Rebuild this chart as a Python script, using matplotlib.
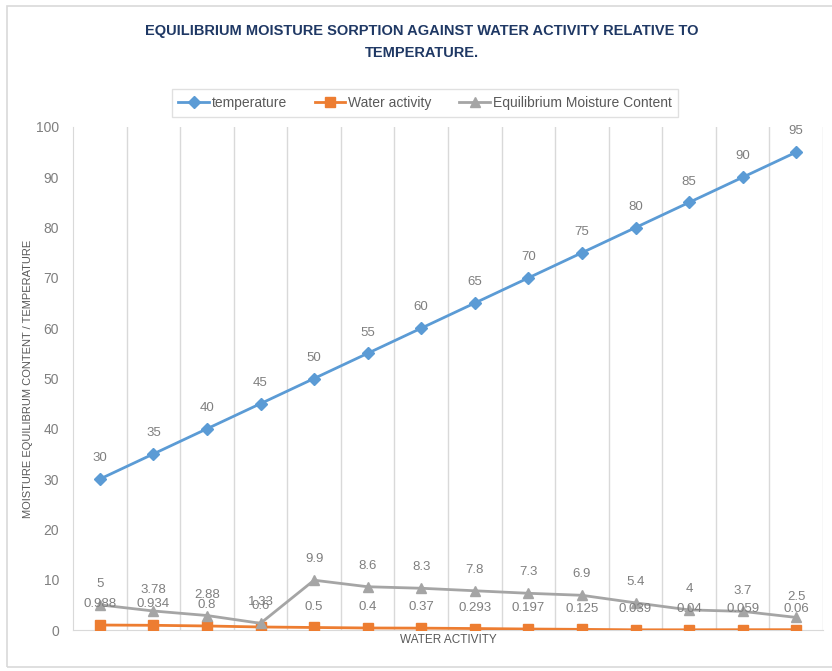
import matplotlib.pyplot as plt
from matplotlib.patches import Rectangle

plt.rcParams['font.family'] = ['Liberation Sans', 'DejaVu Sans']

# one point per category, no category labels shown
temperature = [30, 35, 40, 45, 50, 55, 60, 65, 70, 75, 80, 85, 90, 95]
water_activity = [0.988, 0.934, 0.8, 0.6, 0.5, 0.4, 0.37, 0.293, 0.197, 0.125, 0.039, 0.04, 0.059, 0.06]
emc = [5, 3.78, 2.88, 1.33, 9.9, 8.6, 8.3, 7.8, 7.3, 6.9, 5.4, 4, 3.7, 2.5]
yticks = [0, 10, 20, 30, 40, 50, 60, 70, 80, 90, 100]

blue = '#5B9BD5'
orange = '#ED7D31'
grey = '#A5A5A5'
label_col = '#7F7F7F'

fig = plt.figure(figsize=(8.32, 6.71), dpi=100)
fig.patches.append(Rectangle((7 / 832, 4 / 671), 1.0, 1 - 10 / 671, transform=fig.transFigure,
                             fill=False, edgecolor='#D9D9D9', linewidth=1.2))
ax = fig.add_axes([73 / 832, 1 - 630 / 671, 750 / 832, 503 / 671])

x = list(range(len(temperature)))

ax.plot(x, temperature, color=blue, lw=2, marker='D', ms=6, label='temperature', zorder=3)
ax.plot(x, water_activity, color=orange, lw=2, marker='s', ms=7, label='Water activity', zorder=3)
ax.plot(x, emc, color=grey, lw=2, marker='^', ms=7, label='Equilibrium Moisture Content', zorder=4)

for series in (temperature, water_activity, emc):
    for xi, v in zip(x, series):
        ax.annotate('%g' % v, (xi, v), xytext=(0, 15), textcoords='offset points',
                    ha='center', va='center', fontsize=9.5, color=label_col, zorder=5)

ax.set_xlim(-0.5, len(x) - 0.5)
ax.set_ylim(0, 100)
for b in range(1, len(x) + 1):
    ax.axvline(b - 0.5, color='#D9D9D9', lw=1, zorder=1)
ax.set_xticks([])
ax.set_yticks(yticks)
ax.tick_params(axis='y', length=0, labelsize=10, labelcolor=label_col, pad=10)
for s in ['top', 'right']:
    ax.spines[s].set_visible(False)
ax.spines['left'].set_color('#D9D9D9')
ax.spines['bottom'].set_color('#D9D9D9')

ax.set_xlabel('WATER ACTIVITY', fontsize=8.5, color='#595959', labelpad=3)
ax.set_ylabel('MOISTURE EQUILIBRUM CONTENT / TEMPERATURE', fontsize=8, color='#595959')
ax.yaxis.set_label_coords(-40 / 750, 0.5)

fig.text(422 / 832, 1 - 31 / 671, 'EQUILIBRIUM MOISTURE SORPTION AGAINST WATER ACTIVITY RELATIVE TO',
         ha='center', va='center', fontsize=10.5, fontweight='bold', color='#1F3864')
fig.text(422 / 832, 1 - 53 / 671, 'TEMPERATURE.',
         ha='center', va='center', fontsize=10.5, fontweight='bold', color='#1F3864')

leg = fig.legend(loc='center', bbox_to_anchor=(425 / 832, 1 - 103 / 671), ncol=3, fontsize=10,
                 frameon=True, fancybox=False, edgecolor='#D9D9D9', handlelength=2.2,
                 columnspacing=2.0, handletextpad=0.2, borderpad=0.5)
for t in leg.get_texts():
    t.set_color('#595959')

fig.savefig('out.png', dpi=100)
